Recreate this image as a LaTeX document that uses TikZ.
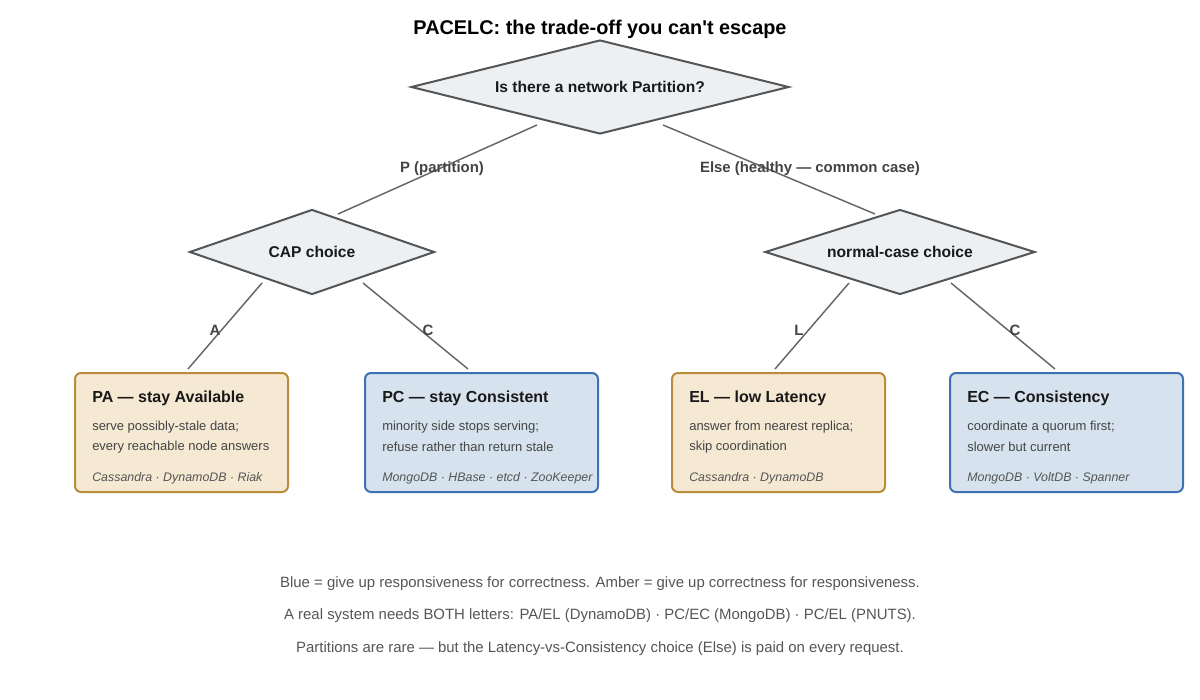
\documentclass[tikz,border=0pt]{standalone}
\usepackage{fontspec}
\setmainfont{Liberation Sans}
\usepackage{xcolor}
\usepackage{tikz}
\usetikzlibrary{positioning}
\usetikzlibrary{shapes.geometric}
\usetikzlibrary{calc}

\definecolor{diamfill}{HTML}{EDF0F3}
\definecolor{diamline}{HTML}{555555}
\definecolor{edgeline}{HTML}{666666}
\definecolor{amberfill}{HTML}{F5E9D3}
\definecolor{amberline}{HTML}{BA8C3C}
\definecolor{bluefill}{HTML}{D6E3EE}
\definecolor{blueline}{HTML}{3F70B3}
\definecolor{bodytext}{HTML}{444444}
\definecolor{notetext}{HTML}{555555}

\begin{document}
\begin{tikzpicture}
  [
    x=0.75pt, y=-0.75pt,
    decision/.style={
       diamond,
       draw=diamline,
       fill=diamfill,
       line width=1.5pt,
       inner sep=0pt,
       font=\fontsize{11.7}{13}\selectfont\bfseries,
       text=black!90
    },
    edge/.style={
       draw=edgeline,
       line width=1.1pt
    },
    elabel/.style={
       font=\fontsize{11.2}{13}\selectfont\bfseries,
       text=bodytext
    },
    amber/.style={
       draw=amberline,
       fill=amberfill,
       line width=1.5pt,
       rounded corners=4.5pt,
       minimum height=89.25pt
    },
    blue/.style={
       draw=blueline,
       fill=bluefill,
       line width=1.5pt,
       rounded corners=4.5pt,
       minimum height=89.25pt
    },
    btitle/.style={
       anchor=west,
       inner sep=0pt,
       font=\fontsize{12}{14}\selectfont\bfseries,
       text=black!90
    },
    bbody/.style={
       anchor=west,
       inner sep=0pt,
       font=\fontsize{9.75}{12}\selectfont,
       text=bodytext
    },
    bsys/.style={
       anchor=west,
       inner sep=0pt,
       font=\fontsize{9.3}{12}\selectfont\itshape,
       text=notetext
    },
    note/.style={
       font=\fontsize{11.2}{13}\selectfont,
       text=notetext
    }
  ]
  \useasboundingbox (0,0) rectangle (1200,700);

  % title
  \node (title) at (600,29) [font=\fontsize{14.9}{17}\selectfont\bfseries] {PACELC: the trade-off you can\textquotesingle t escape};

  % decisions
  \node (part) at (600,87)  [decision, minimum width=283.5pt, minimum height=70.5pt, aspect=4.0]  {Is there a network Partition?};
  \node (cap)  at (312,252) [decision, minimum width=183.75pt, minimum height=63.75pt, aspect=2.9] {CAP choice};
  \node (norm) at (900,252) [decision, minimum width=202.5pt, minimum height=63.75pt, aspect=3.2] {normal-case choice};

  % outcome boxes
  \node (pa) at ( 181.5,432.5) [amber, minimum width=159.75pt] {};
  \node (pc) at ( 481.5,432.5) [blue,  minimum width=174.75pt] {};
  \node (el) at ( 778.5,432.5) [amber, minimum width=159.75pt] {};
  \node (ec) at (1066.5,432.5) [blue,  minimum width=174.75pt] {};

  % connectors
  \draw [edge] ($(part)+(-63,38)$) -- ($(cap)+(26,-38)$);
  \draw [edge] ($(part)+(63,38)$)  -- ($(norm)+(-25,-38)$);
  \draw [edge] ($(cap)+(-50,31)$)  -- ($(pa.north)+(6.5,-3)$);
  \draw [edge] ($(cap)+(51,31)$)   -- ($(pc.north)+(-13.5,-3)$);
  \draw [edge] ($(norm)+(-51,31)$) -- ($(el.north)+(-3.5,-3)$);
  \draw [edge] ($(norm)+(51,31)$)  -- ($(ec.north)+(-11.5,-3)$);

  \node (lp)    at (442,168.5) [elabel] {P (partition)};
  \node (lelse) at (810,168.5) [elabel] {Else (healthy — common case)};
  \node (la)    at (215,330.5) [elabel] {A};
  \node (lc1)   at (428,330.5) [elabel] {C};
  \node (ll)    at (799,330.5) [elabel] {L};
  \node (lc2)   at (1015,330.5) [elabel] {C};

  % box texts
  \node (pa-t)  at ($(pa.north west)+(18,26)$)  [btitle] {PA — stay Available};
  \node (pa-b1) at ($(pa.north west)+(18,55)$)  [bbody]  {serve possibly-stale data;};
  \node (pa-b2) at ($(pa.north west)+(18,75)$)  [bbody]  {every reachable node answers};
  \node (pa-s)  at ($(pa.north west)+(18,106)$) [bsys]   {Cassandra · DynamoDB · Riak};

  \node (pc-t)  at ($(pc.north west)+(18,26)$)  [btitle] {PC — stay Consistent};
  \node (pc-b1) at ($(pc.north west)+(18,55)$)  [bbody]  {minority side stops serving;};
  \node (pc-b2) at ($(pc.north west)+(18,75)$)  [bbody]  {refuse rather than return stale};
  \node (pc-s)  at ($(pc.north west)+(18,106)$) [bsys]   {MongoDB · HBase · etcd · ZooKeeper};

  \node (el-t)  at ($(el.north west)+(18,26)$)  [btitle] {EL — low Latency};
  \node (el-b1) at ($(el.north west)+(18,55)$)  [bbody]  {answer from nearest replica;};
  \node (el-b2) at ($(el.north west)+(18,75)$)  [bbody]  {skip coordination};
  \node (el-s)  at ($(el.north west)+(18,106)$) [bsys]   {Cassandra · DynamoDB};

  \node (ec-t)  at ($(ec.north west)+(18,26)$)  [btitle] {EC — Consistency};
  \node (ec-b1) at ($(ec.north west)+(18,55)$)  [bbody]  {coordinate a quorum first;};
  \node (ec-b2) at ($(ec.north west)+(18,75)$)  [bbody]  {slower but current};
  \node (ec-s)  at ($(ec.north west)+(18,106)$) [bsys]   {MongoDB · VoltDB · Spanner};

  % notes
  \node (n1) at (600,583.5) [note] {Blue = give up responsiveness for correctness. Amber = give up correctness for responsiveness.};
  \node (n2) at (600,615.5) [note] {A real system needs BOTH letters: PA/EL (DynamoDB) · PC/EC (MongoDB) · PC/EL (PNUTS).};
  \node (n3) at (600,648.5) [note] {Partitions are rare — but the Latency-vs-Consistency choice (Else) is paid on every request.};
\end{tikzpicture}
\end{document}
